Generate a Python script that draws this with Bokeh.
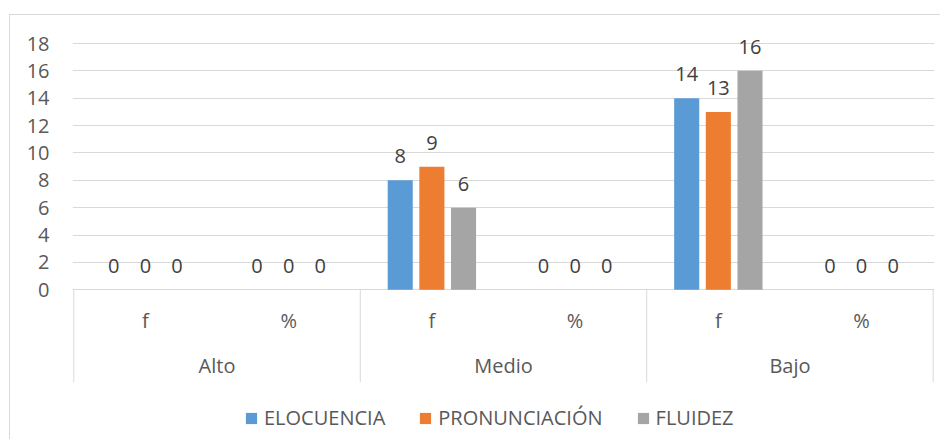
from bokeh.plotting import figure
from bokeh.models import ColumnDataSource, FixedTicker, Range1d, Legend, LegendItem
from bokeh.transform import dodge
from bokeh.core.properties import value
from bokeh.embed import file_html
from bokeh.resources import INLINE

# ---- data ----
levels = ["Alto", "Medio", "Bajo"]
subs = ["f", "%"]
series_names = ["ELOCUENCIA", "PRONUNCIACIÓN", "FLUIDEZ"]
elocuencia = [0, 0, 8, 0, 14, 0]
pronunciacion = [0, 0, 9, 0, 13, 0]
fluidez = [0, 0, 6, 0, 16, 0]
y_ticks = [0, 2, 4, 6, 8, 10, 12, 14, 16, 18]
colors = ["#5B9BD5", "#ED7D31", "#A5A5A5"]

FONT = "Open Sans"
FS = "20px"
TXT = "#595959"
GRID = "#D9D9D9"

n = len(levels) * len(subs)
xs = [i + 0.5 for i in range(n)]
sub_labels = [s for _ in levels for s in subs]
group_x = [len(subs) * g + len(subs) / 2 for g in range(len(levels))]
sep_x = [len(subs) * g for g in range(len(levels) + 1)]

src = ColumnDataSource(dict(
    x=xs,
    elocuencia=elocuencia, pronunciacion=pronunciacion, fluidez=fluidez,
    l_elo=[str(v) for v in elocuencia],
    l_pro=[str(v) for v in pronunciacion],
    l_flu=[str(v) for v in fluidez],
))

ppu_x = 143.23
pad_x = 1.3 / ppu_x
ppu_y = 13.683
y_top = 18 + 12 / ppu_y
frame_h = 409
y_bot = y_top - frame_h / ppu_y

p = figure(width=931, height=425, output_backend="svg", toolbar_location=None,
           x_range=Range1d(-pad_x, n + pad_x), y_range=Range1d(y_bot, y_top),
           x_axis_location=None, min_border_left=62, min_border_right=7,
           min_border_top=16, min_border_bottom=0)
p.margin = (14, 0, 0, 9)
p.styles = {"border-top": "1px solid #d9d9d9", "border-left": "1px solid #d9d9d9"}
p.outline_line_color = None
p.background_fill_color = "white"
p.border_fill_color = "white"

p.xgrid.visible = False
p.ygrid.ticker = FixedTicker(ticks=y_ticks)
p.ygrid.grid_line_color = GRID
p.ygrid.grid_line_width = 1

ax = p.yaxis[0]
ax.ticker = FixedTicker(ticks=y_ticks)
ax.axis_line_color = None
ax.major_tick_line_color = None
ax.minor_tick_line_color = None
ax.major_tick_out = 0
ax.major_tick_in = 0
ax.major_label_standoff = 23
ax.major_label_text_font = FONT
ax.major_label_text_font_size = FS
ax.major_label_text_color = TXT

step = 0.221
bw = 0.175
renderers = []
for k, (col, lab) in enumerate([("elocuencia", "l_elo"), ("pronunciacion", "l_pro"), ("fluidez", "l_flu")]):
    off = (k - 1) * step
    r = p.vbar(x=dodge("x", off, range=p.x_range), top=col, width=bw, bottom=0,
               source=src, fill_color=colors[k], line_color=None)
    renderers.append(r)
    p.text(x=dodge("x", off, range=p.x_range), y=col, text=lab, source=src,
           text_align="center", text_baseline="alphabetic", y_offset=-24,
           text_font=value(FONT), text_font_size=FS, text_color="#404040")

# category separators
p.segment(x0=sep_x, y0=[0] * len(sep_x), x1=sep_x, y1=[-6.75] * len(sep_x),
          line_color=GRID, line_width=1)

# subcategory and group labels
p.text(x=xs, y=[0] * n, text=sub_labels, text_align="center", text_baseline="alphabetic",
       y_offset=31, text_font=value(FONT), text_font_size=FS, text_color=TXT)
p.text(x=group_x, y=[0] * len(levels), text=levels, text_align="center",
       text_baseline="alphabetic", y_offset=76, text_font=value(FONT),
       text_font_size=FS, text_color=TXT)

legend = Legend(items=[LegendItem(label=series_names[k], renderers=[renderers[k]]) for k in range(3)],
                orientation="horizontal", location=(172, 9),
                glyph_width=14, glyph_height=14, label_standoff=6, spacing=33,
                padding=0, margin=0, border_line_color=None, background_fill_alpha=0,
                label_text_font=FONT, label_text_font_size=FS, label_text_color=TXT)
p.add_layout(legend)

open("out.html", "w").write(file_html(p, INLINE))
